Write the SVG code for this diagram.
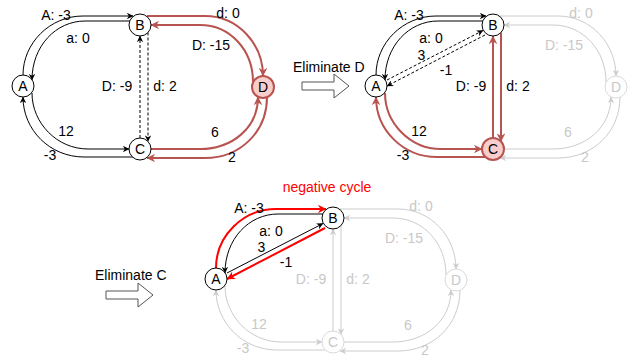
<svg xmlns="http://www.w3.org/2000/svg" width="632" height="360" viewBox="0 0 632 360">
<style>
.t{font-family:"Liberation Sans",Arial,sans-serif;font-size:14px;fill:#000;text-anchor:middle}
.tl{text-anchor:start}
.tf{fill:#c8c8c8}
.tR{fill:#ff0000}
.n{fill:#fff;stroke:#000;stroke-width:1}
.nh{fill:#f8cecc;stroke:#b85450;stroke-width:2}
.nf{fill:#fff;stroke:#dadada;stroke-width:1}
.e{fill:none;stroke:#000;stroke-width:1;marker-end:url(#mk)}
.ed{stroke-dasharray:3 2}
.er{stroke:#b85450;stroke-width:2;marker-end:url(#mkr)}
.eR{stroke:#ff0000;stroke-width:2;marker-end:url(#mkR)}
.ef{stroke:#cccccc;marker-end:url(#mkf)}
.blk{fill:#fff;stroke:#555;stroke-width:1}
</style>
<defs>
<marker id="mk" viewBox="0 0 10 10" refX="9.5" refY="5" markerWidth="6.5" markerHeight="6.5" markerUnits="userSpaceOnUse" orient="auto"><path d="M0,0 L10,5 L0,10 L3,5 z" fill="#000"/></marker>
<marker id="mkr" viewBox="0 0 10 10" refX="9.5" refY="5" markerWidth="8.5" markerHeight="8.5" markerUnits="userSpaceOnUse" orient="auto"><path d="M0,0 L10,5 L0,10 L3,5 z" fill="#b85450"/></marker>
<marker id="mkR" viewBox="0 0 10 10" refX="9.5" refY="5" markerWidth="8.5" markerHeight="8.5" markerUnits="userSpaceOnUse" orient="auto"><path d="M0,0 L10,5 L0,10 L3,5 z" fill="#ff0000"/></marker>
<marker id="mkf" viewBox="0 0 10 10" refX="9.5" refY="5" markerWidth="6.5" markerHeight="6.5" markerUnits="userSpaceOnUse" orient="auto"><path d="M0,0 L10,5 L0,10 L3,5 z" fill="#cccccc"/></marker>
</defs>

<g id="connectors">
  <g id="edges-1">
    <path class="e" d="M23,75 C23,43 50,16 83,16 L133,16"/>
    <path class="e" d="M130,21 L85,21 C56,21 32,46 32,80"/>
    <path class="e" d="M32,93 C32,123 57,149 88,149 L129,149"/>
    <path class="e" d="M133,157 L84,157 C50,157 23,130 23,97"/>
    <path class="e ed" d="M140,138 L140,36"/>
    <path class="e ed" d="M148,32.5 L148,141.5"/>
    <path class="e er" d="M147,16 L205,16 C238,16 263,44 263,76"/>
    <path class="e er" d="M253,82 C253,50 230,25 200,25 L151,25"/>
    <path class="e er" d="M151,149 L200,149 C232,149 258,128 258,97"/>
    <path class="e er" d="M267,97 C267,132 240,158 205,158 L147,158"/>
  </g>
  <g id="edges-2" transform="translate(353,0)">
    <path class="e" d="M23,75 C23,43 50,16 83,16 L133,16"/>
    <path class="e" d="M130,21 L85,21 C56,21 32,46 32,80"/>
    <path class="e ed" d="M34,80 L130,30.5"/>
    <path class="e ed" d="M132,35 L34,86"/>
    <path class="e er" d="M32,93 C32,123 57,149 88,149 L129,149"/>
    <path class="e er" d="M133,157 L84,157 C50,157 23,130 23,97"/>
    <path class="e er" d="M140,138 L140,36"/>
    <path class="e er" d="M148,32.5 L148,141.5"/>
    <path class="e ef" d="M147,16 L205,16 C238,16 263,44 263,76"/>
    <path class="e ef" d="M253,82 C253,50 230,25 200,25 L151,25"/>
    <path class="e ef" d="M151,149 L200,149 C232,149 258,128 258,97"/>
    <path class="e ef" d="M267,97 C267,132 240,158 205,158 L147,158"/>
  </g>
  <g id="edges-3" transform="translate(193,193)">
    <path class="e eR" d="M23,75 C23,43 50,16 83,16 L133,16"/>
    <path class="e" d="M130,21 L85,21 C56,21 32,46 32,80"/>
    <path class="e" d="M34,80 L130,30.5"/>
    <path class="e eR" d="M132,35 L34,86"/>
    <path class="e ef" d="M32,93 C32,123 57,149 88,149 L129,149"/>
    <path class="e ef" d="M133,157 L84,157 C50,157 23,130 23,97"/>
    <path class="e ef" d="M140,138 L140,36"/>
    <path class="e ef" d="M148,32.5 L148,141.5"/>
    <path class="e ef" d="M147,16 L205,16 C238,16 263,44 263,76"/>
    <path class="e ef" d="M253,82 C253,50 230,25 200,25 L151,25"/>
    <path class="e ef" d="M151,149 L200,149 C232,149 258,128 258,97"/>
    <path class="e ef" d="M267,97 C267,132 240,158 205,158 L147,158"/>
  </g>
</g>

<g id="edge-labels">
  <g transform="translate(0,0)">
    <text class="t" x="56" y="20">A: -3</text>
    <text class="t" x="78" y="43">a: 0</text>
    <text class="t" x="66" y="136">12</text>
    <text class="t" x="50" y="160">-3</text>
    <text class="t" x="117" y="91">D: -9</text>
    <text class="t" x="165" y="91">d: 2</text>
    <text class="t" x="228" y="18">d: 0</text>
    <text class="t" x="211" y="50">D: -15</text>
    <text class="t" x="215" y="137">6</text>
    <text class="t" x="232" y="162">2</text>
  </g>
  <g transform="translate(353,0)">
    <text class="t" x="56" y="20">A: -3</text>
    <text class="t" x="78" y="43">a: 0</text>
    <text class="t" x="68.5" y="60">3</text>
    <text class="t" x="93" y="75">-1</text>
    <text class="t" x="66" y="136">12</text>
    <text class="t" x="50" y="160">-3</text>
    <text class="t" x="118" y="91">D: -9</text>
    <text class="t" x="165" y="91">d: 2</text>
    <text class="t tf" x="228" y="18">d: 0</text>
    <text class="t tf" x="211" y="50">D: -15</text>
    <text class="t tf" x="215" y="137">6</text>
    <text class="t tf" x="232" y="162">2</text>
  </g>
  <g transform="translate(193,193)">
    <text class="t" x="56" y="20">A: -3</text>
    <text class="t" x="78" y="43">a: 0</text>
    <text class="t" x="68.5" y="59">3</text>
    <text class="t" x="93" y="74">-1</text>
    <text class="t tf" x="66" y="136">12</text>
    <text class="t tf" x="50" y="160">-3</text>
    <text class="t tf" x="118" y="91">D: -9</text>
    <text class="t tf" x="165" y="91">d: 2</text>
    <text class="t tf" x="228" y="18">d: 0</text>
    <text class="t tf" x="211" y="50">D: -15</text>
    <text class="t tf" x="215" y="137">6</text>
    <text class="t tf" x="232" y="162">2</text>
  </g>
</g>

<g id="A1"><circle class="n" cx="23" cy="86" r="11"/><text class="t" x="23" y="91">A</text></g>
<g id="B1"><circle class="n" cx="140" cy="25" r="11"/><text class="t" x="140" y="30">B</text></g>
<g id="C1"><circle class="n" cx="140" cy="149" r="11"/><text class="t" x="140" y="154">C</text></g>
<g id="D1"><circle class="nh" cx="263" cy="87" r="11"/><text class="t" x="263" y="92">D</text></g>

<g id="A2"><circle class="n" cx="376" cy="86" r="11"/><text class="t" x="376" y="91">A</text></g>
<g id="B2"><circle class="n" cx="493" cy="25" r="11"/><text class="t" x="493" y="30">B</text></g>
<g id="C2"><circle class="nh" cx="493" cy="149" r="11"/><text class="t" x="493" y="154">C</text></g>
<g id="D2"><circle class="nf" cx="616" cy="87" r="11"/><text class="t tf" x="616" y="92">D</text></g>

<g id="A3"><circle class="n" cx="216" cy="279" r="11"/><text class="t" x="216" y="284">A</text></g>
<g id="B3"><circle class="n" cx="333" cy="218" r="11"/><text class="t" x="333" y="223">B</text></g>
<g id="C3"><circle class="nf" cx="333" cy="342" r="11"/><text class="t tf" x="333" y="347">C</text></g>
<g id="D3"><circle class="nf" cx="456" cy="280" r="11"/><text class="t tf" x="456" y="285">D</text></g>

<g id="step1">
  <text class="t tl" x="293" y="72">Eliminate D</text>
  <path class="blk" d="M302,82 L334,82 L334,74 L349,86 L334,98 L334,90 L302,90 Z"/>
</g>
<g id="step2">
  <text class="t tl" x="95" y="280">Eliminate C</text>
  <path class="blk" d="M106,291 L138,291 L138,283 L153,295 L138,307 L138,299 L106,299 Z"/>
</g>
<g id="note"><text class="t tR" x="327" y="192">negative cycle</text></g>
</svg>
